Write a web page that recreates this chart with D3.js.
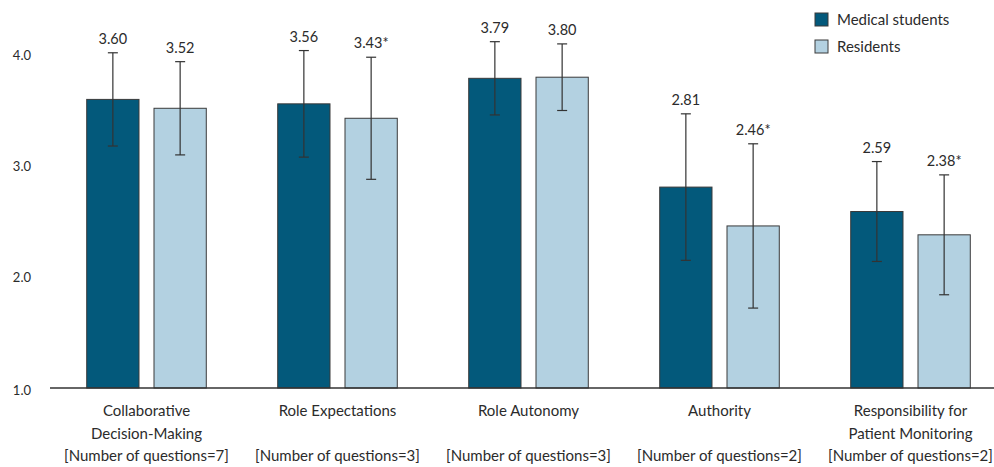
<!DOCTYPE html>
<html>
<head>
<meta charset="utf-8">
<script src="https://cdn.jsdelivr.net/npm/d3@7"></script>
<style>
  body { margin: 0; background: #fff; }
  text { font-family: Lato, "Open Sans", sans-serif; fill: #2b2b2b; }
</style>
</head>
<body>
<div id="chart"></div>
<script>
// datos
const categories = [
  ["Collaborative", "Decision-Making", "[Number of questions=7]"],
  ["Role Expectations", "", "[Number of questions=3]"],
  ["Role Autonomy", "", "[Number of questions=3]"],
  ["Authority", "", "[Number of questions=2]"],
  ["Responsibility for", "Patient Monitoring", "[Number of questions=2]"],
];
const seriesNames = ["Medical students", "Residents"];
const medicalValues = [3.60, 3.56, 3.79, 2.81, 2.59];
const medicalSD = [0.42, 0.48, 0.33, 0.66, 0.45];
const residentValues = [3.52, 3.43, 3.80, 2.46, 2.38];
const residentSD = [0.42, 0.55, 0.30, 0.74, 0.54];
const residentSignif = [false, true, false, true, true];
const yTicks = [1.0, 2.0, 3.0, 4.0];

const WIDTH = 994;
const HEIGHT = 467;
const COLORS = ["#03597b", "#b3d1e1"];

const svg = d3.select("#chart").append("svg")
  .attr("width", WIDTH).attr("height", HEIGHT);

const data = categories.map((c, i) => ({
  idx: i,
  lines: c,
  bars: [
    { s: 0, v: medicalValues[i], sd: medicalSD[i], star: false },
    { s: 1, v: residentValues[i], sd: residentSD[i], star: residentSignif[i] },
  ],
}));

const x0 = d3.scaleBand()
  .domain(d3.range(categories.length))
  .range([51, 1006])
  .paddingInner(0.374)
  .paddingOuter(0.187);

const x1 = d3.scaleBand()
  .domain([0, 1])
  .range([0, x0.bandwidth()])
  .paddingInner(0.223);

const y = d3.scaleLinear().domain([1, 4]).range([388, 55]);

// eje y (solo etiquetas)
svg.append("g").selectAll("text")
  .data(yTicks)
  .join("text")
  .attr("x", 31)
  .attr("y", d => y(d) + (d === 1 ? 2 : 0))
  .attr("dy", "0.35em")
  .attr("text-anchor", "end")
  .style("font-size", "13px")
  .text(d => d.toFixed(1));

const groups = svg.append("g").selectAll("g")
  .data(data)
  .join("g")
  .attr("transform", d => `translate(${x0(d.idx)},0)`);

groups.selectAll("rect")
  .data(d => d.bars)
  .join("rect")
  .attr("x", d => x1(d.s))
  .attr("y", d => y(d.v))
  .attr("width", x1.bandwidth())
  .attr("height", d => y(1) - y(d.v))
  .attr("fill", d => COLORS[d.s])
  .attr("stroke", "#3a3a3a")
  .attr("stroke-width", 1);

// barras de error
const err = groups.selectAll("g.err")
  .data(d => d.bars)
  .join("g")
  .attr("class", "err")
  .attr("transform", d => `translate(${x1(d.s) + x1.bandwidth() / 2},0)`);

err.append("line")
  .attr("y1", d => y(d.v + d.sd))
  .attr("y2", d => y(d.v - d.sd))
  .attr("stroke", "#333").attr("stroke-width", 1.2);
err.append("line")
  .attr("x1", -5).attr("x2", 5)
  .attr("y1", d => y(d.v + d.sd)).attr("y2", d => y(d.v + d.sd))
  .attr("stroke", "#333").attr("stroke-width", 1.2);
err.append("line")
  .attr("x1", -5).attr("x2", 5)
  .attr("y1", d => y(d.v - d.sd)).attr("y2", d => y(d.v - d.sd))
  .attr("stroke", "#333").attr("stroke-width", 1.2);

err.append("text")
  .attr("y", d => y(d.v + d.sd) - 9)
  .attr("text-anchor", "middle")
  .style("font-size", "14.5px")
  .text(d => d.v.toFixed(2) + (d.star ? "*" : ""));

// linea base
svg.append("line")
  .attr("x1", 50).attr("x2", WIDTH)
  .attr("y1", y(1)).attr("y2", y(1))
  .attr("stroke", "#333").attr("stroke-width", 1.5);

// etiquetas de categoria
const labels = svg.append("g").selectAll("text")
  .data(data)
  .join("text")
  .attr("text-anchor", "middle")
  .attr("x", d => x0(d.idx) + x0.bandwidth() / 2)
  .style("font-size", "15px");

labels.selectAll("tspan")
  .data(d => d.lines.map((t, k) => ({ t, k })).filter(e => e.t !== ""))
  .join("tspan")
  .attr("x", function () { return d3.select(this.parentNode).attr("x"); })
  .attr("y", e => 416 + e.k * 22.5)
  .text(e => e.t);

// leyenda
const legend = svg.append("g").selectAll("g")
  .data(seriesNames)
  .join("g")
  .attr("transform", (d, i) => `translate(815,${13 + i * 27})`);

legend.append("rect")
  .attr("width", 13).attr("height", 13)
  .attr("fill", (d, i) => COLORS[i])
  .attr("stroke", "#3a3a3a");

legend.append("text")
  .attr("x", 22).attr("y", 7)
  .attr("dy", "0.35em")
  .style("font-size", "15px")
  .text(d => d);
</script>
</body>
</html>
